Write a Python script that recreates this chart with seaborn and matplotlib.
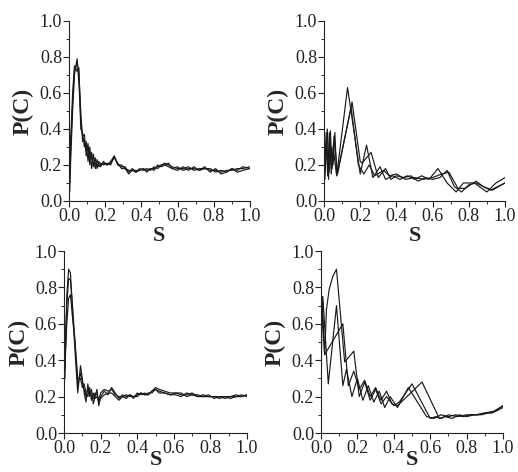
import matplotlib
matplotlib.use("Agg")
import matplotlib.pyplot as plt
import seaborn as sns
from matplotlib.ticker import MultipleLocator

# panel 1 (top left): three runs on a shared S grid
p1_s = [0.0, 0.004, 0.01, 0.02, 0.03, 0.045, 0.055, 0.065, 0.075, 0.085, 0.095, 0.105, 0.115, 0.125,
        0.135, 0.145, 0.155, 0.165, 0.175, 0.19, 0.21, 0.23, 0.25, 0.27, 0.29, 0.31, 0.33, 0.35, 0.37,
        0.39, 0.41, 0.43, 0.45, 0.47, 0.49, 0.51, 0.53, 0.55, 0.57, 0.6, 0.63, 0.66, 0.69, 0.72, 0.75,
        0.78, 0.81, 0.84, 0.87, 0.9, 0.93, 0.96, 1.0]
p1_a = [0.9, 0.05, 0.25, 0.5, 0.7, 0.79, 0.65, 0.45, 0.36, 0.37, 0.25, 0.32, 0.2, 0.27, 0.19, 0.24,
        0.18, 0.22, 0.2, 0.21, 0.2, 0.22, 0.25, 0.2, 0.19, 0.19, 0.16, 0.18, 0.16, 0.18, 0.17, 0.18,
        0.17, 0.19, 0.18, 0.2, 0.21, 0.2, 0.19, 0.18, 0.18, 0.19, 0.17, 0.18, 0.18, 0.17, 0.17, 0.16,
        0.17, 0.17, 0.18, 0.18, 0.19]
p1_b = [0.85, 0.1, 0.3, 0.55, 0.72, 0.77, 0.7, 0.5, 0.33, 0.34, 0.28, 0.29, 0.23, 0.24, 0.21, 0.21,
        0.2, 0.2, 0.19, 0.22, 0.2, 0.21, 0.24, 0.21, 0.18, 0.18, 0.17, 0.17, 0.17, 0.17, 0.18, 0.17,
        0.18, 0.18, 0.19, 0.2, 0.2, 0.19, 0.18, 0.19, 0.17, 0.18, 0.18, 0.17, 0.18, 0.18, 0.16, 0.17,
        0.16, 0.18, 0.17, 0.19, 0.18]
p1_c = [0.8, 0.15, 0.35, 0.6, 0.75, 0.72, 0.74, 0.4, 0.38, 0.3, 0.33, 0.22, 0.3, 0.18, 0.26, 0.18,
        0.23, 0.19, 0.21, 0.2, 0.21, 0.2, 0.25, 0.2, 0.2, 0.18, 0.15, 0.17, 0.16, 0.17, 0.18, 0.16,
        0.18, 0.17, 0.2, 0.19, 0.2, 0.21, 0.18, 0.17, 0.19, 0.17, 0.19, 0.17, 0.19, 0.16, 0.18, 0.15,
        0.16, 0.18, 0.16, 0.17, 0.18]

# panel 2 (top right)
p2_a_s = [0.0, 0.003, 0.012, 0.02, 0.03, 0.04, 0.05, 0.07, 0.13, 0.2, 0.235, 0.27, 0.31, 0.34,
          0.38, 0.42, 0.46, 0.5, 0.54, 0.58, 0.63, 0.68, 0.73, 0.77, 0.83, 0.9, 0.95, 1.0]
p2_a = [0.9, 0.15, 0.38, 0.14, 0.38, 0.15, 0.3, 0.14, 0.63, 0.15, 0.31, 0.13, 0.19, 0.12, 0.14,
        0.12, 0.14, 0.12, 0.14, 0.12, 0.18, 0.1, 0.05, 0.1, 0.1, 0.05, 0.1, 0.13]
p2_b_s = [0.0, 0.005, 0.015, 0.025, 0.035, 0.045, 0.055, 0.075, 0.155, 0.2, 0.21, 0.26, 0.3, 0.34,
          0.37, 0.4, 0.44, 0.48, 0.52, 0.56, 0.6, 0.64, 0.68, 0.72, 0.76, 0.8, 0.84, 0.88, 0.92, 1.0]
p2_b = [0.5, 0.12, 0.35, 0.12, 0.39, 0.18, 0.36, 0.15, 0.55, 0.22, 0.21, 0.27, 0.13, 0.18, 0.12,
        0.14, 0.13, 0.14, 0.11, 0.13, 0.12, 0.13, 0.17, 0.08, 0.05, 0.09, 0.1, 0.08, 0.06, 0.1]
p2_c_s = [0.0, 0.008, 0.018, 0.028, 0.038, 0.05, 0.06, 0.07, 0.15, 0.19, 0.22, 0.25, 0.28, 0.33,
          0.36, 0.4, 0.45, 0.5, 0.55, 0.6, 0.65, 0.69, 0.74, 0.78, 0.84, 0.88, 0.93, 1.0]
p2_c = [0.3, 0.2, 0.4, 0.16, 0.3, 0.2, 0.38, 0.14, 0.52, 0.2, 0.15, 0.2, 0.14, 0.17, 0.14, 0.15,
        0.12, 0.13, 0.12, 0.13, 0.15, 0.16, 0.07, 0.07, 0.11, 0.08, 0.06, 0.1]

# panel 3 (bottom left): shared S grid
p3_s = [0.0, 0.005, 0.015, 0.025, 0.035, 0.045, 0.06, 0.075, 0.09, 0.1, 0.11, 0.12, 0.13, 0.14,
        0.15, 0.16, 0.17, 0.18, 0.19, 0.2, 0.22, 0.24, 0.26, 0.28, 0.3, 0.32, 0.34, 0.36, 0.38, 0.4,
        0.42, 0.44, 0.46, 0.48, 0.5, 0.52, 0.55, 0.58, 0.61, 0.64, 0.67, 0.7, 0.73, 0.76, 0.79, 0.82,
        0.85, 0.88, 0.91, 0.94, 0.97, 1.0]
p3_a = [0.95, 0.3, 0.75, 0.9, 0.88, 0.7, 0.45, 0.22, 0.37, 0.3, 0.22, 0.17, 0.27, 0.2, 0.24, 0.16,
        0.2, 0.24, 0.15, 0.2, 0.23, 0.21, 0.25, 0.22, 0.19, 0.21, 0.2, 0.21, 0.19, 0.22, 0.21, 0.22,
        0.21, 0.23, 0.25, 0.24, 0.23, 0.22, 0.22, 0.21, 0.21, 0.22, 0.2, 0.21, 0.2, 0.2, 0.19, 0.2,
        0.19, 0.2, 0.2, 0.21]
p3_b = [0.9, 0.35, 0.7, 0.85, 0.84, 0.72, 0.5, 0.26, 0.33, 0.28, 0.24, 0.2, 0.24, 0.22, 0.21, 0.19,
        0.22, 0.21, 0.18, 0.22, 0.24, 0.23, 0.24, 0.21, 0.2, 0.2, 0.21, 0.2, 0.2, 0.21, 0.22, 0.21,
        0.22, 0.22, 0.24, 0.23, 0.22, 0.21, 0.22, 0.22, 0.2, 0.21, 0.21, 0.2, 0.21, 0.19, 0.2, 0.2,
        0.2, 0.21, 0.2, 0.21]
p3_c = [0.85, 0.4, 0.6, 0.74, 0.76, 0.65, 0.5, 0.3, 0.3, 0.25, 0.27, 0.22, 0.2, 0.25, 0.18, 0.22,
        0.19, 0.2, 0.17, 0.19, 0.21, 0.22, 0.22, 0.2, 0.18, 0.2, 0.19, 0.21, 0.2, 0.2, 0.22, 0.21,
        0.21, 0.23, 0.24, 0.22, 0.22, 0.21, 0.21, 0.2, 0.22, 0.21, 0.2, 0.2, 0.2, 0.2, 0.2, 0.19,
        0.2, 0.2, 0.21, 0.2]

# panel 4 (bottom right)
p4_a_s = [0.0, 0.005, 0.02, 0.03, 0.045, 0.065, 0.085, 0.13, 0.18, 0.21, 0.24, 0.27, 0.3, 0.33,
          0.36, 0.4, 0.43, 0.5, 0.6, 0.63, 0.66, 0.7, 0.75, 0.8, 0.85, 0.9, 0.95, 1.0]
p4_a = [0.1, 0.7, 0.43, 0.68, 0.79, 0.86, 0.9, 0.39, 0.45, 0.2, 0.28, 0.18, 0.24, 0.16, 0.2, 0.15,
        0.17, 0.27, 0.08, 0.09, 0.08, 0.1, 0.09, 0.1, 0.1, 0.11, 0.12, 0.15]
p4_b_s = [0.0, 0.01, 0.04, 0.085, 0.12, 0.14, 0.17, 0.2, 0.23, 0.26, 0.29, 0.32, 0.35, 0.38, 0.42,
          0.48, 0.58, 0.62, 0.66, 0.7, 0.74, 0.78, 0.82, 0.86, 0.9, 0.94, 1.0]
p4_b = [0.6, 0.75, 0.27, 0.7, 0.26, 0.35, 0.2, 0.3, 0.18, 0.26, 0.17, 0.23, 0.14, 0.2, 0.14, 0.25,
        0.09, 0.08, 0.1, 0.09, 0.1, 0.09, 0.1, 0.1, 0.11, 0.11, 0.14]
p4_c_s = [0.0, 0.006, 0.02, 0.12, 0.15, 0.18, 0.21, 0.24, 0.27, 0.3, 0.33, 0.36, 0.39, 0.42, 0.555,
          0.65, 0.68, 0.72, 0.76, 0.8, 0.84, 0.88, 0.92, 0.96, 1.0]
p4_c = [0.3, 0.75, 0.43, 0.6, 0.26, 0.34, 0.24, 0.29, 0.2, 0.25, 0.18, 0.23, 0.16, 0.15, 0.28,
        0.08, 0.09, 0.08, 0.1, 0.09, 0.1, 0.1, 0.11, 0.12, 0.15]

panels = [
    ([0.1332, 0.5742, 0.3494, 0.3814], [(p1_s, p1_a), (p1_s, p1_b), (p1_s, p1_c)]),
    ([0.6255, 0.5742, 0.3494, 0.3814], [(p2_a_s, p2_a), (p2_b_s, p2_b), (p2_c_s, p2_c)]),
    ([0.1236, 0.0826, 0.3533, 0.3856], [(p3_s, p3_a), (p3_s, p3_b), (p3_s, p3_c)]),
    ([0.6197, 0.0826, 0.3514, 0.3856], [(p4_a_s, p4_a), (p4_b_s, p4_b), (p4_c_s, p4_c)]),
]

sns.set_style("ticks")
plt.rcParams["font.family"] = ["Liberation Serif", "DejaVu Serif"]

fig = plt.figure(figsize=(5.18, 4.72), dpi=100)

for i, (rect, curves) in enumerate(panels):
    ax = fig.add_axes(rect)
    for s, p in curves:
        sns.lineplot(x=s, y=p, ax=ax, color="#1a1a1a", linewidth=0.85, estimator=None, sort=False)
    ax.set_xlim(0, 1.0)
    ax.set_ylim(0, 1.0)
    ax.xaxis.set_major_locator(MultipleLocator(0.2))
    ax.xaxis.set_minor_locator(MultipleLocator(0.1))
    ax.yaxis.set_major_locator(MultipleLocator(0.2))
    ax.yaxis.set_minor_locator(MultipleLocator(0.1))
    ax.tick_params(which="major", direction="out", length=4, width=0.8, labelsize=13, pad=1, colors="#222222")
    ax.tick_params(which="minor", direction="out", length=2.5, width=0.7)
    sns.despine(ax=ax)
    for sp in ("left", "bottom"):
        ax.spines[sp].set_linewidth(0.8)
        ax.spines[sp].set_color("#222222")
    ax.set_xlabel("S", fontsize=16, fontweight="bold", labelpad=1 if i < 2 else -5)
    ax.set_ylabel("P(C)", fontsize=17, fontweight="bold", labelpad=4)

fig.savefig("out.png", dpi=100, facecolor="white")
